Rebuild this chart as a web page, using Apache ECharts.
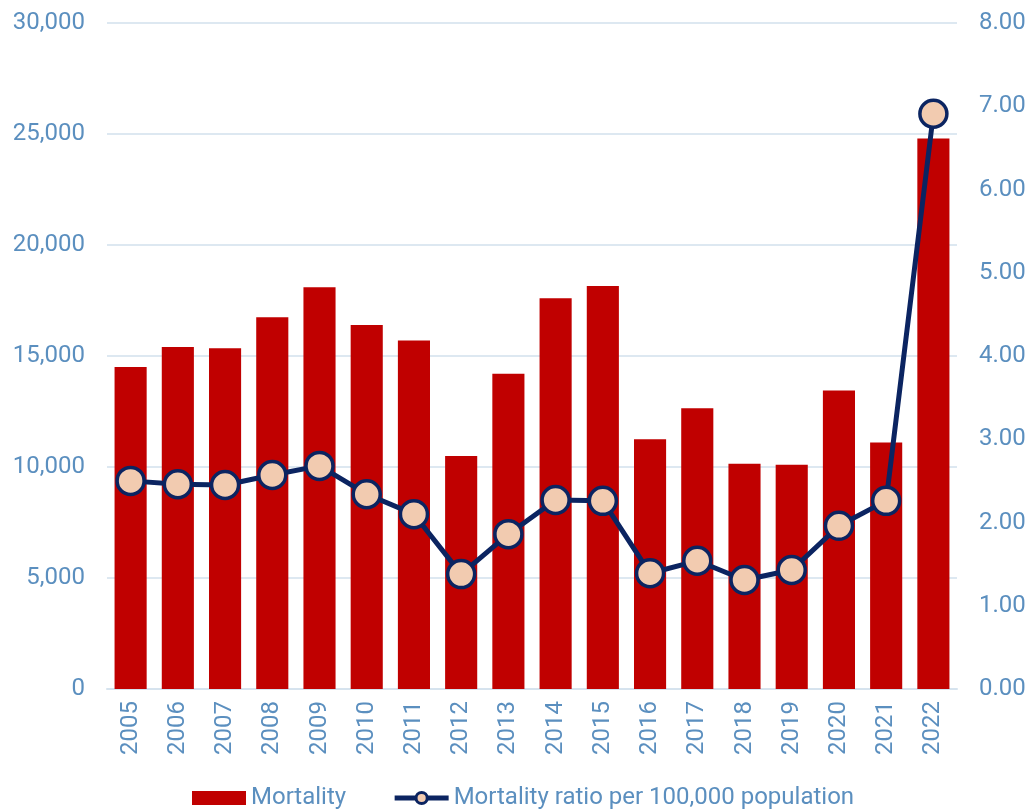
<!DOCTYPE html>
<html><head><meta charset="utf-8">
<script src="https://cdn.jsdelivr.net/npm/echarts@6/dist/echarts.min.js"></script>
<style>html,body{margin:0;padding:0;background:#fff}#c{width:1029px;height:810px}</style>
</head><body><div id="c"></div>
<script>
const years = ['2005','2006','2007','2008','2009','2010','2011','2012','2013','2014','2015','2016','2017','2018','2019','2020','2021','2022'];
const mortality = [14500,15400,15350,16750,18100,16400,15700,10500,14200,17600,18150,11250,12650,10150,10100,13450,11100,24800];
const ratio = [2.50,2.46,2.45,2.57,2.68,2.34,2.10,1.38,1.86,2.27,2.26,1.39,1.54,1.31,1.43,1.96,2.26,6.91];
const labelColor = '#5b8fbf';
const chart = echarts.init(document.getElementById('c'));
chart.setOption({
  animation:false,
  textStyle:{fontFamily:'Roboto'},
  grid:{left:107,right:72,top:23,bottom:121},
  legend:{top:781,left:187,itemGap:46,itemWidth:54,itemHeight:14,
    textStyle:{color:labelColor,fontSize:24,fontFamily:'Roboto'},
    data:[{name:'Mortality',icon:'rect',itemStyle:{borderWidth:0}},
          {name:'Mortality ratio per 100,000 population',
           itemStyle:{borderWidth:3},lineStyle:{width:5}}]},
  xAxis:{type:'category',data:years,
    axisLine:{lineStyle:{color:'#d6e3ee',width:2}},axisTick:{show:false},
    axisLabel:{rotate:90,color:labelColor,fontSize:24,margin:12}},
  yAxis:[{type:'value',min:0,max:30000,interval:5000,
    axisLabel:{color:labelColor,fontSize:24,margin:22,formatter:v=>v.toLocaleString('en-US')},
    splitLine:{lineStyle:{color:'#dde8f1',width:2}},axisLine:{show:false},axisTick:{show:false}},
   {type:'value',min:0,max:8,interval:1,position:'right',
    axisLabel:{color:labelColor,fontSize:24,margin:22,formatter:v=>v.toFixed(2)},
    splitLine:{show:false},axisLine:{show:false},axisTick:{show:false}}],
  series:[
   {name:'Mortality',type:'bar',data:mortality,barCategoryGap:'32%',itemStyle:{color:'#c00000'}},
   {name:'Mortality ratio per 100,000 population',type:'line',yAxisIndex:1,data:ratio,
    symbol:'circle',symbolSize:27,lineStyle:{color:'#0b2461',width:5},
    itemStyle:{color:'#f2cbb0',borderColor:'#0b2461',borderWidth:3.5}}
  ]
});
</script></body></html>
